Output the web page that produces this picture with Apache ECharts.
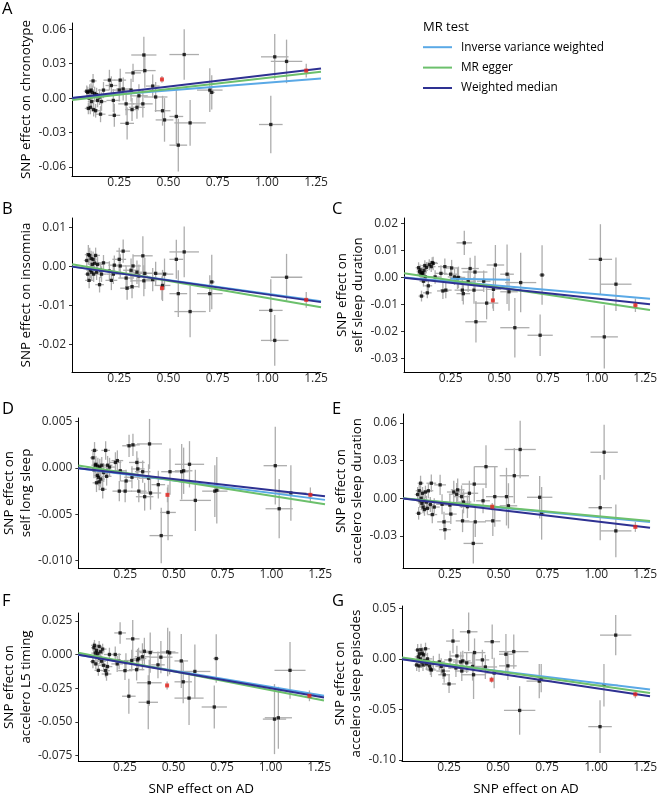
<!DOCTYPE html>
<html><head><meta charset="utf-8">
<script src="https://cdn.jsdelivr.net/npm/echarts@6/dist/echarts.min.js"></script>
<style>html,body{margin:0;padding:0;background:#fff}#c{width:660px;height:797px}</style>
</head><body><div id="c"></div>
<script>
// ---------- DATA ----------
// SNP effect on AD (shared by all panels) and its standard error
const snpX = [0.085,0.09,0.093,0.097,0.10,0.103,0.107,0.11,0.113,0.117,0.12,0.125,0.13,0.135,0.14,0.15,0.155,0.16,0.17,0.20,0.21,0.22,0.225,0.25,0.255,0.27,0.285,0.29,0.31,0.315,0.32,0.34,0.35,0.37,0.375,0.38,0.42,0.435,0.467,0.47,0.48,0.54,0.55,0.58,0.61,0.71,0.72,1.02,1.04,1.10,1.20];
const snpXse = [0.015,0.015,0.018,0.02,0.015,0.02,0.018,0.02,0.02,0.018,0.02,0.02,0.022,0.02,0.025,0.022,0.025,0.025,0.028,0.03,0.03,0.035,0.03,0.035,0.03,0.035,0.04,0.035,0.04,0.035,0.04,0.04,0.045,0.05,0.064,0.055,0.035,0.06,0.008,0.04,0.045,0.035,0.045,0.075,0.08,0.065,0.015,0.06,0.07,0.08,0.01];
const redIdx = [38, 50];

// A: chronotype
const yA = [0.006,0.005,-0.009,0.0,0.006,-0.008,0.007,-0.003,0.005,0.015,-0.01,0.004,-0.011,0.003,-0.002,0.001,-0.014,-0.003,0.007,0.0157,0.011,-0.002,-0.015,0.007,0.0157,0.008,-0.005,-0.022,0.007,-0.01,0.022,-0.008,0.002,-0.005,0.0376,0.024,0.0105,0.001,0.0163,-0.011,-0.019,-0.016,-0.041,0.038,-0.0216,0.007,0.005,-0.023,0.036,0.032,0.024];
const seA = [0.005,0.005,0.005,0.006,0.006,0.006,0.006,0.006,0.006,0.006,0.006,0.006,0.006,0.006,0.006,0.007,0.007,0.008,0.007,0.009,0.008,0.01,0.01,0.01,0.01,0.01,0.01,0.014,0.01,0.01,0.008,0.01,0.01,0.012,0.016,0.015,0.01,0.013,0.003,0.013,0.019,0.024,0.023,0.022,0.02,0.019,0.015,0.025,0.02,0.019,0.006];
// B: insomnia
const yB = [0.0015,-0.002,0.003,-0.0036,0.0028,-0.001,0.002,-0.0015,0.0005,0.0018,-0.002,0.0008,0.0028,-0.0015,0.0005,-0.0047,-0.001,-0.002,0.0009,-0.0012,-0.0036,-0.002,0.0003,0.0018,0.0001,0.0039,-0.003,-0.0056,-0.001,-0.0052,0.0001,-0.0015,-0.0025,0.0027,-0.0037,-0.0018,-0.0034,-0.0018,-0.0056,-0.0049,-0.002,0.0018,-0.007,0.0037,-0.0116,-0.007,-0.004,-0.0113,-0.019,-0.0028,-0.0086];
const seB = [0.002,0.002,0.0025,0.002,0.002,0.002,0.002,0.002,0.002,0.002,0.002,0.002,0.002,0.002,0.002,0.002,0.002,0.002,0.002,0.0025,0.0025,0.0025,0.0025,0.003,0.003,0.003,0.003,0.003,0.003,0.003,0.003,0.003,0.003,0.005,0.004,0.004,0.003,0.003,0.003,0.004,0.004,0.005,0.006,0.0065,0.0066,0.0047,0.007,0.008,0.0065,0.006,0.002];
// C: self sleep duration
const yC = [0.0036,0.0021,0.0028,0.0012,-0.0069,0.0018,0.0015,-0.0014,0.0026,0.0044,0.0002,0.0037,-0.0057,-0.0031,0.0047,0.004,0.0055,0.0052,0.0002,0.0015,-0.005,0.004,-0.0047,0.0012,0.0035,0.0002,-0.0003,0.0,-0.0047,-0.006,0.0128,-0.0014,0.0033,-0.0047,0.002,-0.0164,-0.0014,-0.0095,-0.0085,-0.0044,0.0046,0.0012,-0.0053,-0.0186,-0.0019,-0.0214,0.0009,0.0067,-0.022,-0.0025,-0.0103];
const seC = [0.002,0.002,0.002,0.002,0.002,0.002,0.002,0.002,0.002,0.002,0.002,0.002,0.002,0.002,0.002,0.002,0.002,0.0025,0.0025,0.003,0.003,0.003,0.003,0.003,0.003,0.003,0.004,0.004,0.004,0.004,0.0045,0.004,0.004,0.005,0.006,0.0077,0.004,0.006,0.003,0.008,0.0074,0.011,0.007,0.011,0.011,0.0077,0.011,0.013,0.0117,0.0099,0.0025];
const cIvwSegX = [0.25, 0.555];
const cIvwSegY = [-0.0005, -0.0009];
// D: self long sleep
const yD = [0.0011,-0.0002,0.0019,0.0003,0.0004,-0.0016,-0.0008,0.0002,-0.001,-0.0015,0.0001,-0.0012,0.0003,-0.0023,-0.0005,0.0019,-0.0009,0.0003,0.0001,0.0006,0.0008,-0.0025,-0.0003,-0.0025,-0.0014,0.0024,-0.001,0.0025,0.0006,-0.0001,-0.0025,-0.0004,-0.0031,-0.0011,0.0026,-0.0027,-0.0018,-0.0073,-0.0029,-0.0048,-0.0004,-0.0004,-0.0003,0.0004,-0.0035,-0.0025,-0.0024,0.00025,-0.0044,-0.0027,-0.0029];
const seD = [0.0009,0.0009,0.0009,0.0009,0.0009,0.001,0.0009,0.0009,0.0009,0.0009,0.0009,0.0009,0.0009,0.001,0.001,0.001,0.001,0.001,0.001,0.0011,0.0011,0.0011,0.0011,0.0012,0.0012,0.0012,0.0012,0.0012,0.0012,0.0012,0.0012,0.0012,0.0015,0.0015,0.0027,0.0018,0.0015,0.003,0.0008,0.003,0.0025,0.003,0.0025,0.0025,0.0033,0.0028,0.0036,0.0042,0.0032,0.003,0.0008];
// E: accelero sleep duration
const yE = [0.003,-0.012,0.006,-0.002,0.012,0.0,-0.004,0.004,-0.007,-0.002,-0.009,0.005,-0.003,-0.008,0.006,-0.005,0.012,-0.013,-0.007,0.0107,-0.0048,-0.0188,-0.025,-0.0054,-0.0126,0.005,0.0032,0.0067,0.0013,-0.018,-0.003,-0.0067,0.004,-0.036,0.0113,-0.0188,-0.002,0.0252,-0.0067,-0.018,0.0013,0.0013,-0.006,0.018,0.0389,0.0008,-0.012,-0.0075,0.0367,-0.026,-0.0228];
const seE = [0.006,0.005,0.005,0.005,0.006,0.005,0.005,0.005,0.005,0.005,0.005,0.005,0.005,0.005,0.006,0.006,0.007,0.007,0.007,0.008,0.008,0.008,0.008,0.008,0.008,0.009,0.009,0.009,0.009,0.009,0.009,0.009,0.01,0.016,0.014,0.012,0.01,0.017,0.003,0.012,0.024,0.023,0.018,0.022,0.023,0.017,0.021,0.026,0.022,0.021,0.004];
// F: accelero L5 timing
const yF = [-0.0053,0.005,0.0068,0.001,-0.007,0.003,-0.002,0.0008,-0.0118,0.006,-0.003,0.002,-0.005,0.004,-0.008,-0.012,-0.0145,-0.009,0.0,0.0,-0.007,-0.005,0.016,-0.012,-0.006,-0.031,-0.0045,0.0116,-0.0113,-0.004,-0.003,-0.0017,0.0024,-0.0355,-0.021,0.0014,-0.0077,-0.002,-0.023,0.0019,0.0012,-0.0048,-0.0203,-0.0324,-0.0126,-0.039,-0.003,-0.048,-0.047,-0.0118,-0.0307];
const seF = [0.005,0.004,0.004,0.004,0.004,0.004,0.004,0.004,0.004,0.004,0.004,0.004,0.004,0.004,0.005,0.005,0.005,0.005,0.005,0.006,0.006,0.006,0.008,0.007,0.007,0.013,0.008,0.014,0.008,0.008,0.008,0.01,0.01,0.02,0.017,0.015,0.01,0.012,0.003,0.018,0.016,0.02,0.016,0.02,0.02,0.016,0.018,0.026,0.023,0.021,0.004];
// G: accelero sleep episodes
const yG = [-0.006,0.0088,0.002,-0.007,0.005,0.0,0.009,-0.003,0.0055,-0.006,0.004,-0.002,0.01,-0.005,0.0,-0.007,-0.01,-0.011,-0.004,-0.003,-0.0075,-0.012,-0.0157,-0.0248,-0.001,0.0176,-0.009,0.0029,-0.003,-0.012,-0.002,-0.004,0.0268,-0.0075,-0.0157,0.0062,-0.001,-0.008,-0.0206,0.017,-0.014,0.0046,-0.0069,0.0072,-0.051,-0.022,-0.019,-0.067,-0.026,0.0235,-0.035];
const seG = [0.006,0.006,0.006,0.006,0.006,0.006,0.006,0.006,0.006,0.006,0.006,0.006,0.006,0.006,0.006,0.006,0.006,0.007,0.007,0.008,0.008,0.008,0.008,0.009,0.009,0.012,0.009,0.01,0.01,0.01,0.01,0.01,0.019,0.014,0.024,0.014,0.01,0.012,0.003,0.017,0.015,0.02,0.014,0.017,0.024,0.017,0.014,0.026,0.021,0.02,0.004];

// MR estimates per panel (A..G)
const ivwSlope       = [0.0134, -0.0070, -0.0062, -0.0027, -0.0148, -0.0240, -0.0238];
const eggerSlope     = [0.0195, -0.0087, -0.0108, -0.0033, -0.0143, -0.0280, -0.0277];
const eggerIntercept = [-0.0018, 0.0006, 0.0017, 0.0003, 0.0002, 0.0015, 0.0016];
const wmSlope        = [0.0203, -0.0072, -0.0078, -0.0024, -0.0185, -0.0250, -0.0290];

// tick labels
const xTicks  = [0.25, 0.50, 0.75, 1.00, 1.25];
const yTicksA = [-0.06, -0.03, 0, 0.03, 0.06];
const yTicksB = [-0.02, -0.01, 0, 0.01];
const yTicksC = [-0.03, -0.02, -0.01, 0, 0.01, 0.02];
const yTicksD = [-0.010, -0.005, 0, 0.005];
const yTicksE = [-0.03, 0, 0.03, 0.06];
const yTicksF = [-0.075, -0.050, -0.025, 0, 0.025];
const yTicksG = [-0.10, -0.05, 0, 0.05];

const panelLetters = ['A','B','C','D','E','F','G'];
const yTitles = ['SNP effect on chronotype','SNP effect on insomnia','SNP effect on\nself sleep duration','SNP effect on\nself long sleep','SNP effect on\naccelero sleep duration','SNP effect on\naccelero L5 timing','SNP effect on\naccelero sleep episodes'];
const xTitle = 'SNP effect on AD';
const methodNames = ['Inverse variance weighted','MR egger','Weighted median'];
const legendTitle = 'MR test';

// ---------- LAYOUT / STYLE ----------
const FONT = '"Open Sans", "Noto Sans", sans-serif';
const COLORS = {ivw:'#5aa9e6', egger:'#6cc06c', wm:'#2e3192', bar:'#adadad', pt:'#000', red:'#e8221b'};
const X_MIN = 0.01, X_MAX = 1.275;
const layout = [
  {left:72,  top:23,  width:249, height:153, ymin:-0.0679, ymax:0.0655, dec:2, gap:38, lx:2,   ly:9,   xt:false},
  {left:72,  top:218, width:249, height:154, ymin:-0.0271, ymax:0.0124, dec:2, gap:38, lx:2,   ly:209, xt:false},
  {left:404, top:218, width:249, height:154, ymin:-0.035,  ymax:0.022,  dec:2, gap:15, lx:332, ly:209, xt:false},
  {left:76,  top:418, width:249, height:150, ymin:-0.0108, ymax:0.0054, dec:3, gap:37, lx:2,   ly:409, xt:false},
  {left:403, top:414, width:250, height:154, ymin:-0.0556, ymax:0.0672, dec:2, gap:35, lx:332, ly:409, xt:false},
  {left:75,  top:613, width:249, height:150, ymin:-0.0791, ymax:0.0308, dec:3, gap:40, lx:2,   ly:601, xt:true},
  {left:402, top:606, width:251, height:156, ymin:-0.101,  ymax:0.0523, dec:2, gap:35, lx:332, ly:601, xt:true}
];
const ys  = [yA,yB,yC,yD,yE,yF,yG];
const ses = [seA,seB,seC,seD,seE,seF,seG];
const yTicks = [yTicksA,yTicksB,yTicksC,yTicksD,yTicksE,yTicksF,yTicksG];

function fmt(v, d){ const s = Math.abs(v).toFixed(d); return (v < 0 && Number(s) !== 0 ? '-' : '') + s; }

function renderBars(params, api){
  const x = api.value(0), y = api.value(1), sx = api.value(2), sy = api.value(3);
  const h1 = api.coord([x - sx, y]), h2 = api.coord([x + sx, y]);
  const v1 = api.coord([x, y - sy]), v2 = api.coord([x, y + sy]);
  const st = {stroke: COLORS.bar, lineWidth: 1.3};
  return {type:'group', children:[
    {type:'line', shape:{x1:h1[0], y1:h1[1], x2:h2[0], y2:h2[1]}, style:st},
    {type:'line', shape:{x1:v1[0], y1:v1[1], x2:v2[0], y2:v2[1]}, style:st}
  ]};
}

const grid=[], xAxis=[], yAxis=[], series=[], graphic=[];
layout.forEach((L, i) => {
  grid.push({left:L.left, top:L.top, width:L.width, height:L.height});
  xAxis.push({
    gridIndex:i, type:'value', min:X_MIN, max:X_MAX,
    axisLine:{show:true, onZero:false, lineStyle:{color:'#000', width:1}},
    axisTick:{show:true, customValues:xTicks, length:3, lineStyle:{color:'#333'}},
    axisLabel:{customValues:xTicks, formatter:v => v.toFixed(2), fontSize:12, color:'#2b2b2b', margin:1, fontFamily:FONT},
    splitLine:{show:false},
    name: L.xt ? xTitle : '', nameLocation:'middle', nameGap:22,
    nameTextStyle:{fontSize:13.4, color:'#000', fontFamily:FONT}
  });
  yAxis.push({
    gridIndex:i, type:'value', min:L.ymin, max:L.ymax,
    axisLine:{show:true, onZero:false, lineStyle:{color:'#000', width:1}},
    axisTick:{show:true, customValues:yTicks[i], length:3, lineStyle:{color:'#333'}},
    axisLabel:{customValues:yTicks[i], formatter:v => fmt(v, L.dec), fontSize:12, color:'#2b2b2b', margin:6, fontFamily:FONT},
    splitLine:{show:false},
    name: yTitles[i], nameLocation:'middle', nameRotate:90, nameGap:L.gap,
    nameTextStyle:{fontSize:13.4, color:'#000', fontFamily:FONT, lineHeight:16.5}
  });
  const yv = ys[i], sv = ses[i];
  const bars = [], pts = [], reds = [];
  for (let k = 0; k < snpX.length; k++) {
    bars.push([snpX[k], yv[k], snpXse[k], sv[k]]);
    if (redIdx.includes(k)) reds.push([snpX[k], yv[k]]); else pts.push([snpX[k], yv[k]]);
  }
  series.push({type:'custom', xAxisIndex:i, yAxisIndex:i, renderItem:renderBars, data:bars,
    encode:{x:0, y:1}, clip:true, silent:true, z:1});
  series.push({type:'scatter', xAxisIndex:i, yAxisIndex:i, data:pts, symbol:'rect', symbolSize:3.3,
    itemStyle:{color:COLORS.pt}, silent:true, z:2});
  const lineDefs = [
    [methodNames[0], COLORS.ivw, 0, ivwSlope[i]],
    [methodNames[1], COLORS.egger, eggerIntercept[i], eggerSlope[i]],
    [methodNames[2], COLORS.wm, 0, wmSlope[i]]
  ];
  lineDefs.forEach(([nm, col, a, b]) => {
    series.push({type:'line', name:nm, xAxisIndex:i, yAxisIndex:i, color:col,
      data:[[X_MIN, a + b*X_MIN], [X_MAX, a + b*X_MAX]], symbol:'none',
      lineStyle:{color:col, width:2}, clip:true, silent:true, z:3});
  });
  if (i === 2) {
    series.push({type:'line', name:methodNames[0], xAxisIndex:i, yAxisIndex:i, color:COLORS.ivw,
      data:[[cIvwSegX[0], cIvwSegY[0]], [cIvwSegX[1], cIvwSegY[1]]], symbol:'none',
      lineStyle:{color:COLORS.ivw, width:2}, silent:true, z:3});
  }
  series.push({type:'scatter', xAxisIndex:i, yAxisIndex:i, data:reds, symbol:'rect', symbolSize:4,
    itemStyle:{color:COLORS.red}, silent:true, z:4});
  graphic.push({type:'text', x:L.lx, y:L.ly, style:{text:panelLetters[i], fontSize:16.5, fill:'#000',
    fontFamily:FONT, textAlign:'left', textVerticalAlign:'middle'}});
});
graphic.push({type:'text', x:423, y:27, style:{text:legendTitle, fontSize:13, fill:'#000',
  fontFamily:FONT, textAlign:'left', textVerticalAlign:'middle'}});

const chart = echarts.init(document.getElementById('c'));
chart.setOption({
  animation:false,
  backgroundColor:'#fff',
  grid, xAxis, yAxis, series, graphic,
  legend:{data:methodNames, orient:'vertical', left:423, top:40, padding:0, icon:'rect', itemWidth:29, itemHeight:2,
    itemGap:6, selectedMode:false,
    textStyle:{fontSize:11.8, color:'#000', fontFamily:FONT, lineHeight:14.4, padding:[0,0,0,4]}}
});
</script>
</body></html>
